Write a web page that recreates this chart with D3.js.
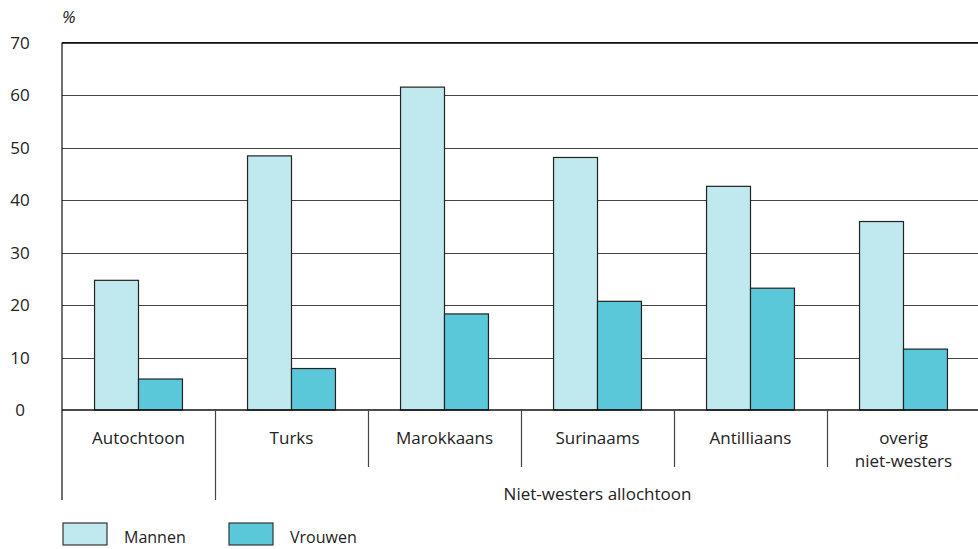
<!DOCTYPE html>
<html><head><meta charset="utf-8">
<script src="https://cdn.jsdelivr.net/npm/d3@7"></script>
<style>body{margin:0;background:#fff}svg text{font-family:"Open Sans",sans-serif;fill:#222}</style>
</head><body><svg id="c" width="978" height="549"></svg>
<script>
const categories = ["Autochtoon","Turks","Marokkaans","Surinaams","Antilliaans","overig niet-westers"];
const categoryLines = [["Autochtoon"],["Turks"],["Marokkaans"],["Surinaams"],["Antilliaans"],["overig","niet-westers"]];
const series = ["Mannen","Vrouwen"];
const mannen = [24.7, 48.4, 61.5, 48.1, 42.6, 35.9];
const vrouwen = [5.9, 7.9, 18.3, 20.7, 23.2, 11.6];
const yTicks = [0,10,20,30,40,50,60,70];
const groupLabel = "Niet-westers allochtoon";
const colors = ["#c0e9ef","#5bc8d9"];

const svg = d3.select("#c");
const L = 62, R = 980, T = 42.5, B = 410;
const x = d3.scaleBand().domain(categories).range([L, R]).paddingInner(0).paddingOuter(0);
const x1 = d3.scaleBand().domain(series).range([0, x.bandwidth()]).paddingInner(0).paddingOuter(0.74);
const y = d3.scaleLinear().domain([0,70]).range([B, T]);

// gridlines
svg.append("g").selectAll("line").data(yTicks.filter(d=>d>0)).join("line")
  .attr("x1", L).attr("x2", R).attr("y1", d=>Math.round(y(d))+0.5).attr("y2", d=>Math.round(y(d))+0.5)
  .attr("stroke", "#444").attr("stroke-width", 1.2);

// y labels
svg.append("g").selectAll("text").data(yTicks).join("text")
  .attr("x", 20).attr("y", d=>y(d)+6).attr("text-anchor","middle").attr("font-size",17).text(d=>d);
svg.append("text").attr("x",62).attr("y",23).attr("font-size",17).attr("font-style","italic").text("%");

// bars
const data = categories.map((c,i)=>({c, vals:[mannen[i], vrouwen[i]]}));
const g = svg.append("g").selectAll("g").data(data).join("g").attr("transform", d=>`translate(${x(d.c)},0)`);
g.selectAll("rect").data(d=>d.vals.map((v,j)=>({s:series[j], v, j}))).join("rect")
  .attr("x", d=>x1(d.s)).attr("width", x1.bandwidth())
  .attr("y", d=>y(d.v)).attr("height", d=>B-y(d.v))
  .attr("fill", d=>colors[d.j]).attr("stroke","#222").attr("stroke-width",1.2);

// axes lines
svg.append("line").attr("x1",L).attr("x2",L).attr("y1",T).attr("y2",500).attr("stroke","#111").attr("stroke-width",1.2);
svg.append("line").attr("x1",L).attr("x2",R).attr("y1",B).attr("y2",B).attr("stroke","#111").attr("stroke-width",1.5);
svg.append("line").attr("x1",L).attr("x2",R).attr("y1",T).attr("y2",T).attr("stroke","#111").attr("stroke-width",1.2);

// category dividers
svg.append("g").selectAll("line").data(categories.slice(1)).join("line")
  .attr("x1", d=>Math.round(x(d))+0.5).attr("x2", d=>Math.round(x(d))+0.5)
  .attr("y1", B).attr("y2", (d,i)=> i===0 ? 500 : 467)
  .attr("stroke","#444").attr("stroke-width",1.2);

// category labels
const cl = svg.append("g").selectAll("text").data(categories).join("text")
  .attr("text-anchor","middle").attr("font-size",17);
cl.each(function(d,i){
  const t = d3.select(this);
  categoryLines[i].forEach((ln,k)=>{
    t.append("tspan").attr("x", x(d)+x.bandwidth()/2).attr("y", 444 + k*23).text(ln);
  });
});
svg.append("text").attr("x",(x(categories[1])+R)/2).attr("y",500).attr("text-anchor","middle").attr("font-size",17).text(groupLabel);

// legend
const lg = svg.append("g").selectAll("g").data(series).join("g")
  .attr("transform",(d,i)=>`translate(${63+i*166},523)`);
lg.append("rect").attr("width",44).attr("height",22).attr("fill",(d,i)=>colors[i]).attr("stroke","#333").attr("stroke-width",1.2);
lg.append("text").attr("x",61).attr("y",20).attr("font-size",16).text(d=>d);
</script></body></html>
